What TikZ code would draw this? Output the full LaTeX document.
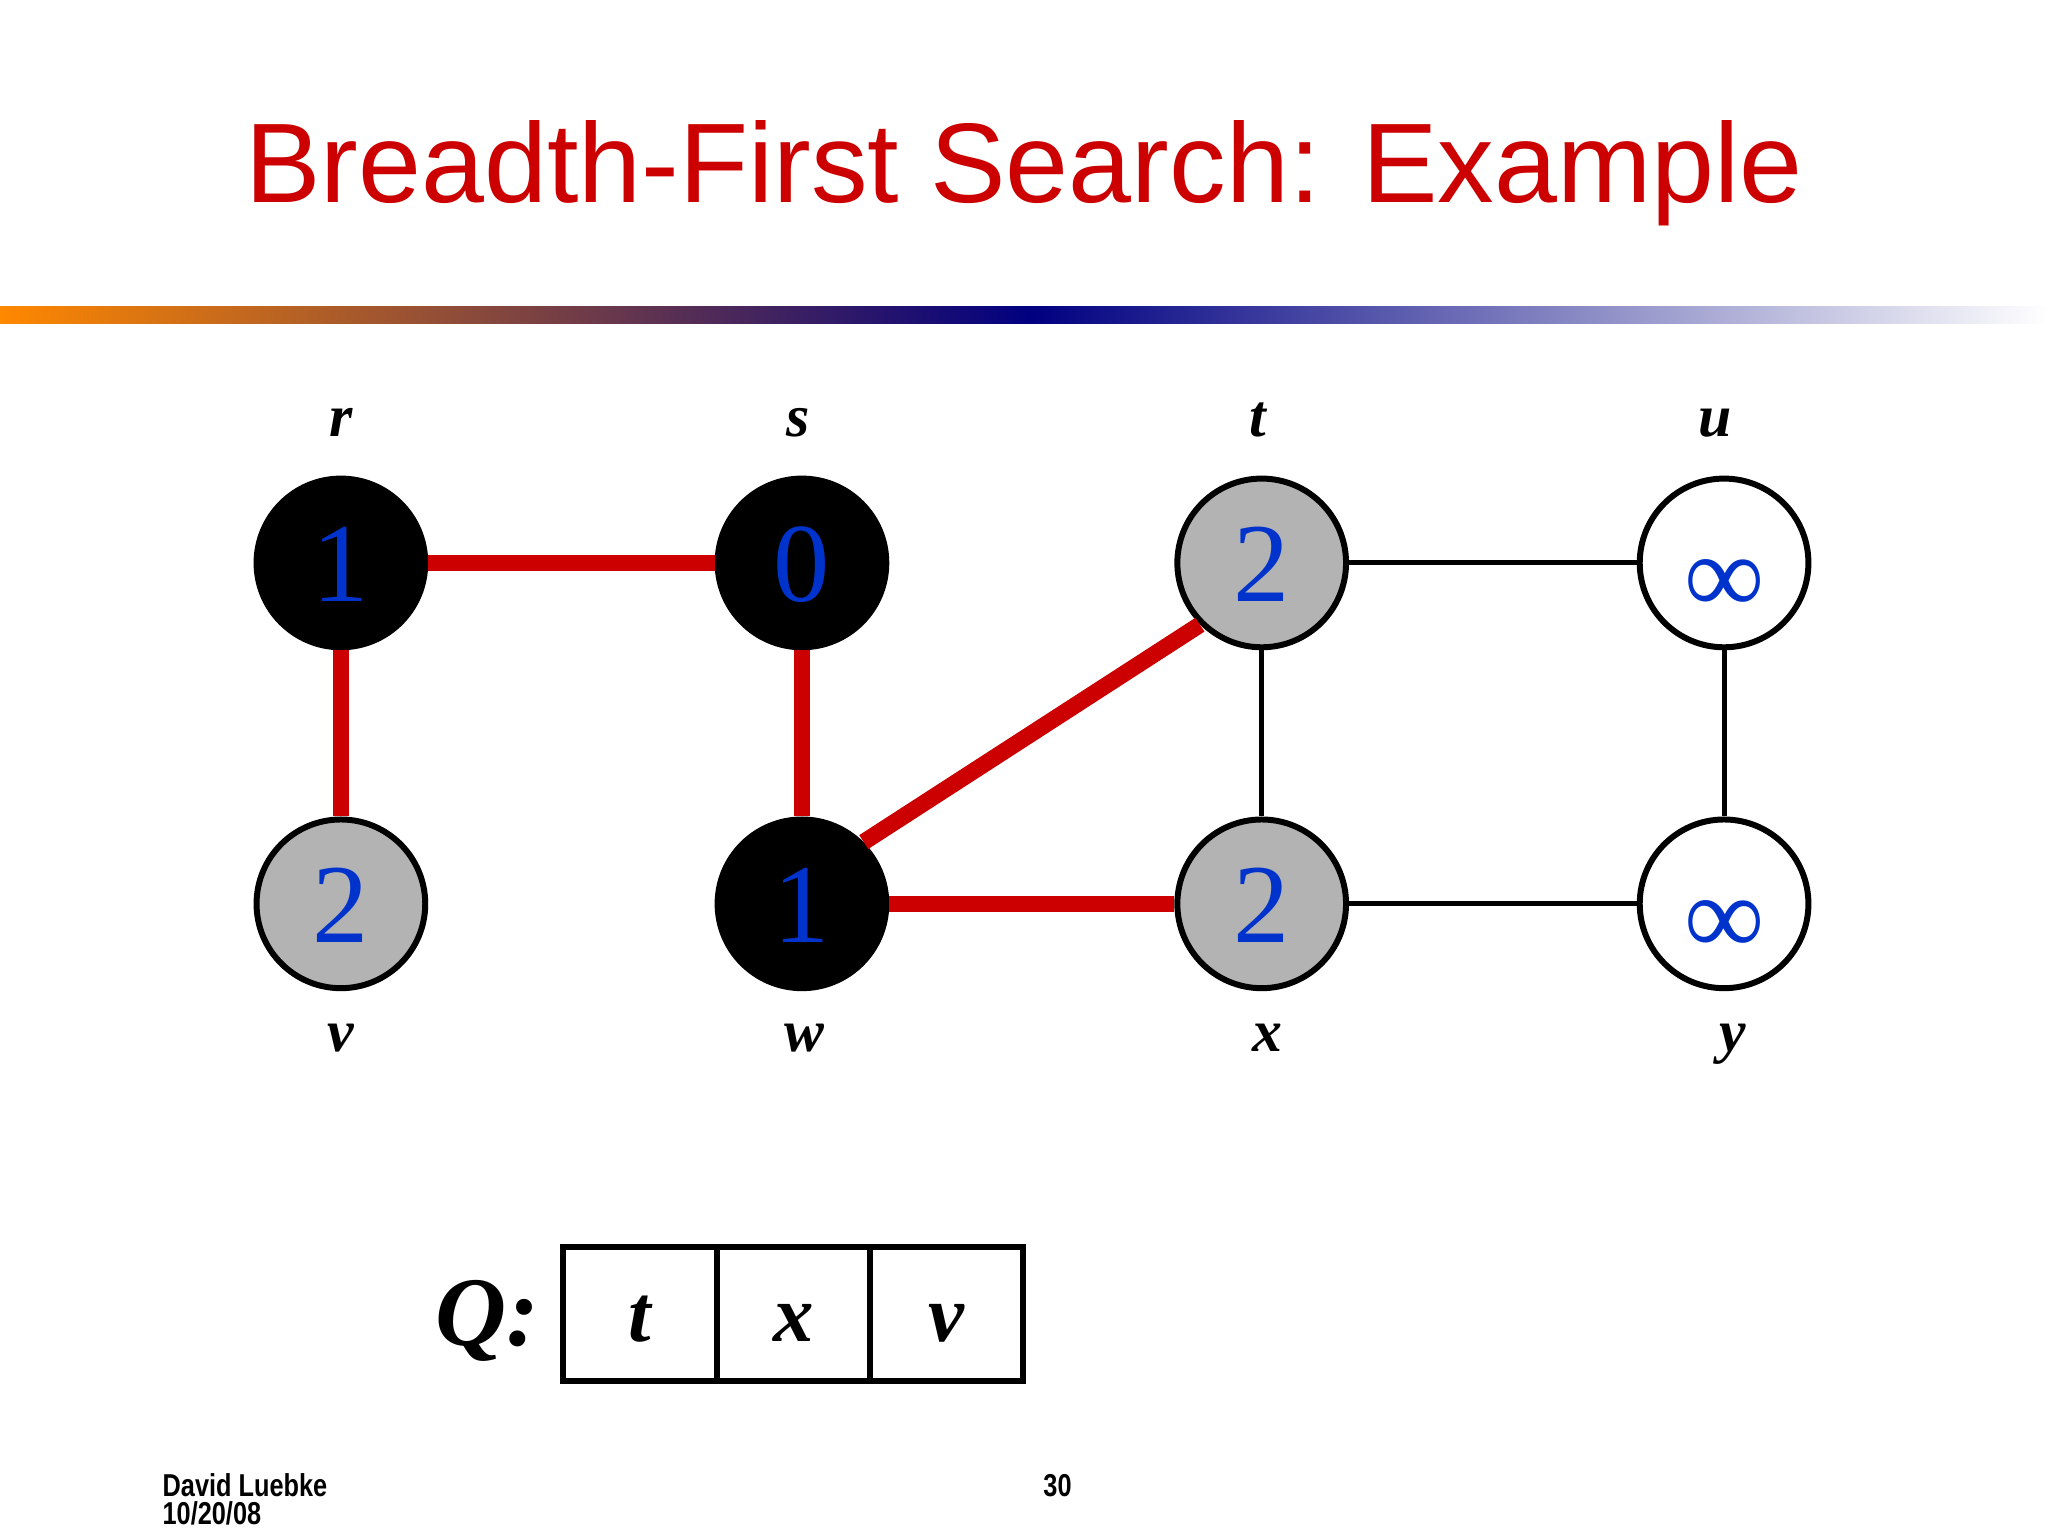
\documentclass[tikz,border=0pt]{standalone}
\usepackage{fontspec}
\setmainfont{Liberation Serif}
\newfontfamily\titlefont{Liberation Sans}
\newfontfamily\footfont[FakeStretch=0.8]{Liberation Sans Bold}
\definecolor{slidered}{HTML}{CC0000}
\definecolor{numblue}{HTML}{0033CC}
\definecolor{vgray}{HTML}{B3B3B3}
\definecolor{barorange}{HTML}{FF8800}
\definecolor{barnavy}{HTML}{000080}
\begin{document}
\begin{tikzpicture}[x=0.013061cm,y=-0.013061cm,
  vtx/.style={circle,minimum size=48pt,inner sep=0pt,line width=1.7pt,draw=black,
    text height=22.2pt,text depth=0pt,font=\fontsize{32}{36}\selectfont,text=numblue},
  blackv/.style={vtx,fill=black},
  grayv/.style={vtx,fill=vgray},
  whitev/.style={vtx,fill=white},
  lbl/.style={anchor=base,inner sep=0pt,font=\bfseries\itshape\fontsize{17}{20}\selectfont},
  tree/.style={line width=4.7pt,draw=slidered},
  plain/.style={line width=1.4pt,draw=black},
  cell/.style={rectangle,draw=black,line width=1.7pt,minimum width=43.6pt,minimum height=38.3pt,
    inner sep=0pt,text height=15.6pt,text depth=0pt,font=\bfseries\itshape\fontsize{23}{26}\selectfont},
  foot/.style={inner sep=0pt,font=\footfont\fontsize{9}{10}\selectfont}
]
\useasboundingbox (0,0) rectangle (1568,1176);
\fill[white] (0,0) rectangle (1568,1176);

% title
\node[anchor=base,inner sep=0pt,text=slidered,font=\titlefont\fontsize{32.2}{36}\selectfont] (title) at (784,155) {Breadth-First Search: Example};

% gradient bar
\shade[left color=barorange,right color=barnavy] (0,235) rectangle (790,248);
\shade[left color=barnavy,right color=white] (790,235) rectangle (1568,248);

% vertices
\node[blackv] (r) at (261,431) {1};
\node[blackv] (s) at (614,431) {0};
\node[grayv]  (t) at (966,431) {2};
\node[whitev] (u) at (1320,431) {\raisebox{-3.2pt}{∞}};
\node[grayv]  (v) at (261,692) {2};
\node[blackv] (w) at (614,692) {1};
\node[grayv]  (x) at (966,692) {2};
\node[whitev] (y) at (1320,692) {\raisebox{-3.2pt}{∞}};

% edges
\draw[tree] (r) -- (s);
\draw[tree] (r) -- (v);
\draw[tree] (s) -- (w);
\draw[tree] (w.45) -- (t.225);
\draw[tree] (w) -- (x);
\draw[plain] (t) -- (u);
\draw[plain] (t) -- (x);
\draw[plain] (u) -- (y);
\draw[plain] (x) -- (y);

% labels
\node[lbl] (lr) at (261,334) {r};
\node[lbl] (ls) at (611,334) {s};
\node[lbl] (lt) at (963,334) {t};
\node[lbl] (lu) at (1313,334) {u};
\node[lbl] (lv) at (261,805) {v};
\node[lbl] (lw) at (616,805) {w};
\node[lbl] (lx) at (970,805) {x};
\node[lbl] (ly) at (1327,805) {y};

% queue
\node[anchor=base,inner sep=0pt,font=\bfseries\itshape\fontsize{28}{32}\selectfont] (qlabel) at (373,1030) {Q:};
\node[cell] (q1) at (490,1006) {t};
\node[cell] (q2) at (607.4,1006) {x};
\node[cell] (q3) at (724.8,1006) {v};

% footer
\node[foot,anchor=base west] (author) at (124,1146) {David Luebke};
\node[foot,anchor=base west] (date) at (124,1167) {10/20/08};
\node[foot,anchor=base east] (page) at (821,1146) {30};
\end{tikzpicture}
\end{document}
